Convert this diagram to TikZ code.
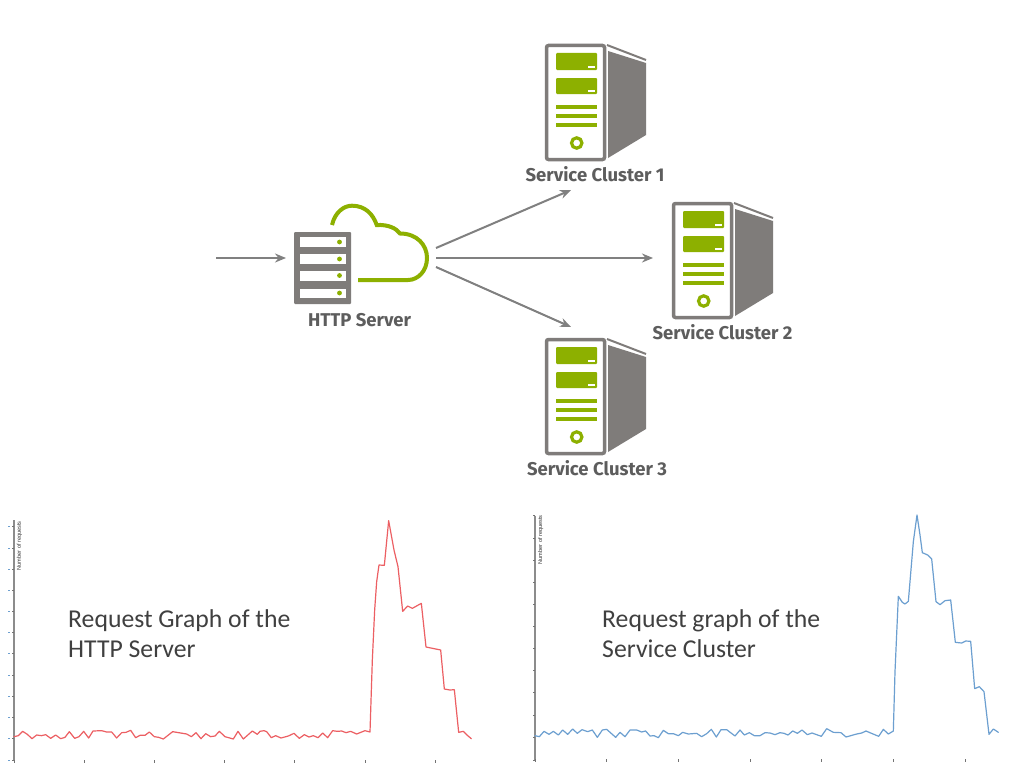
\documentclass[tikz,border=0pt]{standalone}
\usepackage{fontspec}
\setmainfont{Carlito}
\setsansfont{Liberation Sans}
\newfontfamily\lblfont{Fira Sans}
\definecolor{srvgray}{HTML}{7F7C7A}
\definecolor{srvgreen}{HTML}{8DB000}
\definecolor{arrgray}{HTML}{808080}
\definecolor{redline}{HTML}{EC5F63}
\definecolor{blueline}{HTML}{6C9FD0}
\definecolor{capt}{HTML}{404040}
\definecolor{axisgray}{HTML}{8C8C8C}
\usetikzlibrary{arrows.meta}
\tikzset{
  flow/.style={draw=arrgray,line width=2pt,-{Stealth[length=11pt,width=9pt]}},
  iconlabel/.style={font=\lblfont\bfseries\fontsize{18.5}{22}\selectfont,text=capt!85!white,inner sep=0pt,anchor=base},
  caption/.style={font=\fontsize{25.7}{30}\selectfont,text=capt,inner sep=0pt,anchor=base west},
  curve/.style={line width=1.2pt,line join=round,line cap=round},
  axisline/.style={draw=axisgray,line width=1.2pt},
  tickmark/.style={draw=black!55,line width=.6pt},
  ytickmark/.style={draw=blueline,line width=.6pt},
  axistitle/.style={font=\sffamily\fontsize{5.6}{6}\selectfont,text=black!80,inner sep=0pt,rotate=90,anchor=east},
  clusterpic/.pic={
    \fill[srvgray] (63,7) -- (101,19) -- (101,91) -- (63,114) -- cycle;
    \draw[srvgray,line width=2pt] (62,1) -- (101,16);
    \draw[srvgray,line width=3.5pt,fill=white,rounded corners=2pt] (1.5,1.5) rectangle (59.5,115.5);
    \fill[srvgreen,rounded corners=1pt] (11,9) rectangle (52,26);
    \fill[srvgreen,rounded corners=1pt] (11,34) rectangle (52,50);
    \fill[white] (43,22) rectangle (50,24);
    \fill[white] (43,46) rectangle (50,48);
    \fill[srvgreen] (11,61.2) rectangle (52,64.8);
    \fill[srvgreen] (11,70.2) rectangle (52,73.8);
    \fill[srvgreen] (11,79.4) rectangle (52,83);
    \draw[srvgreen,line width=3.2pt] (31.7,99) circle (5.2pt);
  }
}
\begin{document}
\begin{tikzpicture}[x=1pt,y=-1pt]
\useasboundingbox[fill=white] (0,0) rectangle (1024,768);

% HTTP server icon
\fill[srvgray,rounded corners=1pt] (294,232) rectangle (351,304);
\foreach \ya/\yb in {237/247,254/264,271/281,289/298}
  \fill[white] (300,\ya) rectangle (346,\yb);
\foreach \yy in {242,259,275.5,293}
  \fill[srvgreen] (339.5,\yy) circle (2.4pt);
\draw[srvgreen,line width=4pt]
  (332,225) .. controls (335,212) and (344,205.7) .. (352,205.7)
  .. controls (365,205.7) and (373,214) .. (376.7,225)
  .. controls (388,224.5) and (396,228) .. (400,233.5)
  .. controls (417,233.5) and (427,245) .. (427,258)
  .. controls (427,271) and (418,280) .. (408,280)
  -- (358,280);
\node[iconlabel] (http) at (359.5,326.5) {HTTP Server};

% Service clusters
\pic at (545,44) {clusterpic};
\pic at (672,202) {clusterpic};
\pic at (545,338) {clusterpic};
\node[iconlabel] (c1) at (595,181) {Service Cluster 1};
\node[iconlabel] (c2) at (722.5,339) {Service Cluster 2};
\node[iconlabel] (c3) at (597,475.5) {Service Cluster 3};

% Connectors
\coordinate (src) at (216,258);
\coordinate (httpin) at (286,258);
\coordinate (httpa) at (436,248);
\coordinate (httpb) at (436,258);
\coordinate (httpc) at (436,267);
\coordinate (c1in) at (571,190);
\coordinate (c2in) at (653,258);
\coordinate (c3in) at (571,327);
\draw[flow] (src) -- (httpin);
\draw[flow] (httpa) -- (c1in);
\draw[flow] (httpb) -- (c2in);
\draw[flow] (httpc) -- (c3in);

% Red chart
\draw[axisline] (14,520) -- (14,760);
\foreach \yy in {526.7,548,569,590,611.7,632.7,653.7,675,696,717,738.7,760} {
  \draw[ytickmark] (8,\yy) -- (10,\yy);
  \draw[tickmark] (12,\yy) -- (14,\yy);
}
\foreach \xx in {14,84,154,224.5,294.7,365,435.7}
  \draw[tickmark] (\xx,760) -- (\xx,763);
\node[axistitle] (ytitle1) at (19.5,521) {Number of requests};
\begin{scope}[shift={(0,510)},x=0.33333pt,y=-0.33333pt]
\draw[redline,curve] (42,680)--(55,677)--(68,664)--(82,673)--(96,686)--(110,675)--(124,677)--(137,674)--(152,685)--(167,675)--(182,686)--(195,682)--(208,665)--(224,685)--(237,680)--(251,664)--(266,684)--(279,663)--(305,662)--(320,666)--(335,666)--(350,684)--(365,668)--(378,667)--(392,661)--(407,683)--(420,676)--(435,676)--(448,666)--(463,680)--(476,682)--(490,687)--(518,665)--(560,672)--(574,680)--(588,668)--(603,686)--(617,671)--(632,680)--(645,678)--(658,664)--(675,680)--(700,687)--(714,664)--(730,687)--(757,663)--(772,673)--(780,664);
\end{scope}
\begin{scope}[shift={(260,510)},x=0.33333pt,y=-0.33333pt]
\draw[redline,curve] (0,664)--(12,662)--(20,665)--(34,683)--(47,677)--(63,684)--(85,678)--(102,670)--(118,685)--(133,674)--(147,681)--(160,677)--(174,683)--(188,669)--(203,683)--(218,662)--(232,664)--(245,663)--(258,668)--(272,664)--(290,672)--(315,662)--(330,666)--(337,450)--(344,300)--(350,215)--(357,165)--(373,166)--(386,32)--(402,120)--(414,170)--(428,304)--(443,288)--(457,295)--(484,280)--(498,411)--(542,420)--(553,537)--(570,540)--(583,539)--(596,667)--(610,664)--(622,676)--(634,686);
\end{scope}
\node[caption] (cap1a) at (68,627) {Request Graph of the};
\node[caption] (cap1b) at (68,657) {HTTP Server};

% Blue chart
\draw[axisline] (535,515.7) -- (535,760);
\foreach \yy in {515.7,538.3,560.3,582.3,604.3,626.7,648.7,670.7,692.7,715,737.3,760}
  \draw[tickmark] (533,\yy) -- (535,\yy);
\foreach \xx in {535,606.7,678.3,750,821.3,893.3,965.3}
  \draw[tickmark] (\xx,759) -- (\xx,762);
\node[axistitle] (ytitle2) at (540.7,515) {Number of requests};
\begin{scope}[shift={(520,505)},x=0.33333pt,y=-0.33333pt]
\draw[blueline,curve] (45,692)--(58,695)--(72,679)--(87,688)--(100,679)--(115,690)--(128,675)--(143,688)--(158,672)--(172,685)--(186,674)--(203,680)--(217,675)--(232,697)--(247,675)--(260,673)--(287,697)--(300,682)--(315,695)--(330,675)--(350,675)--(365,681)--(377,678)--(390,693)--(402,692)--(415,698)--(430,676)--(445,686)--(460,686)--(475,692)--(488,682)--(505,687)--(530,685)--(545,695)--(560,686)--(574,673)--(589,696)--(603,674)--(620,674)--(645,693)--(660,675)--(673,690)--(688,683)--(703,692)--(720,692)--(735,683)--(750,684)--(765,689)--(780,683);
\end{scope}
\begin{scope}[shift={(780,505)},x=0.33333pt,y=-0.33333pt]
\draw[blueline,curve] (0,683)--(12,685)--(24,690)--(38,678)--(52,685)--(66,675)--(82,689)--(96,684)--(124,694)--(140,671)--(160,682)--(183,683)--(198,696)--(230,687)--(245,684)--(258,678)--(272,684)--(296,694)--(310,673)--(325,687)--(340,678)--(345,500)--(355,274)--(367,292)--(375,297)--(385,289)--(400,110)--(411,30)--(420,90)--(427,143)--(443,150)--(455,162)--(468,290)--(480,299)--(495,287)--(512,285)--(526,412)--(545,414)--(557,408)--(572,409)--(584,551)--(598,545)--(612,560)--(627,688)--(640,672)--(655,682);
\end{scope}
\node[caption] (cap2a) at (602,627) {Request graph of the};
\node[caption] (cap2b) at (602,657) {Service Cluster};
\end{tikzpicture}
\end{document}
